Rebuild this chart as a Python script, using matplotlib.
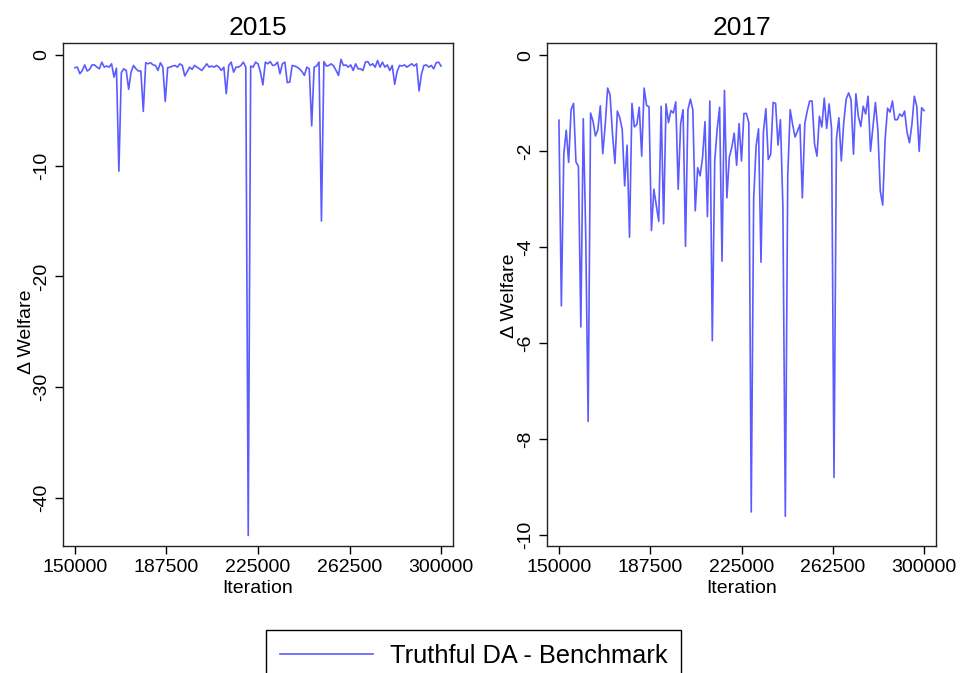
import matplotlib
matplotlib.use("Agg")
import matplotlib.pyplot as plt
import numpy as np

plt.rcParams['font.family'] = ['Liberation Sans', 'DejaVu Sans']

iterations = np.arange(150000, 301000, 1000)

# welfare gap, truthful DA minus benchmark, 2015
welfare_2015 = [
    -1.15, -1.1, -1.7, -1.4, -0.9, -1.45, -1.3, -0.9, -0.9, -1.1,
    -1.25, -0.65, -1.1, -1.0, -1.1, -0.8, -2.0, -1.2, -10.5, -1.6,
    -1.25, -1.4, -3.1, -1.55, -0.95, -1.25, -1.45, -1.45, -5.1, -0.7,
    -0.8, -0.7, -0.9, -0.95, -1.4, -0.7, -1.1, -4.2, -1.15, -1.1,
    -1.0, -0.95, -1.1, -0.8, -0.95, -1.9, -1.5, -1.1, -1.3, -0.95,
    -1.1, -1.25, -1.4, -1.1, -0.8, -1.1, -1.0, -1.1, -0.95, -1.1,
    -1.4, -1.1, -3.5, -0.95, -0.65, -1.55, -1.1, -1.1, -0.95, -0.65,
    -1.1, -43.4, -1.0, -1.1, -0.65, -0.8, -1.55, -2.7, -0.65, -0.8,
    -0.6, -0.95, -0.9, -0.65, -1.7, -0.8, -0.65, -2.5, -2.45, -0.95,
    -1.0, -1.1, -1.25, -1.5, -1.85, -1.1, -1.25, -6.4, -1.1, -1.0,
    -0.65, -15.0, -0.6, -1.0, -0.95, -0.8, -1.0, -1.4, -1.85, -0.4,
    -0.95, -0.9, -1.1, -0.9, -1.4, -0.8, -1.25, -1.25, -1.4, -0.65,
    -0.6, -0.95, -0.8, -1.1, -0.5, -1.1, -0.65, -1.1, -0.9, -1.4,
    -0.95, -2.65, -1.5, -0.95, -1.0, -0.9, -1.1, -0.95, -0.8, -1.0,
    -0.8, -3.25, -1.7, -0.95, -0.9, -1.1, -0.95, -1.25, -0.7, -0.65,
    -1.0,
]

# welfare gap, truthful DA minus benchmark, 2017
welfare_2017 = [
    -1.35, -5.22, -2.06, -1.56, -2.23, -1.13, -1.0, -2.22, -2.31, -5.66,
    -1.32, -3.7, -7.63, -1.2, -1.37, -1.68, -1.55, -1.05, -2.05, -1.46,
    -0.68, -0.82, -1.63, -2.25, -1.16, -1.3, -1.54, -2.72, -1.87, -3.79,
    -1.0, -1.49, -1.44, -1.08, -2.1, -0.68, -1.04, -1.07, -3.65, -2.79,
    -3.13, -3.46, -1.06, -3.51, -1.01, -1.4, -1.15, -1.2, -0.97, -2.79,
    -1.42, -1.13, -3.98, -1.13, -0.91, -1.13, -3.24, -2.34, -2.51, -2.13,
    -1.38, -3.36, -0.95, -5.95, -2.2, -1.54, -1.08, -4.29, -0.73, -2.97,
    -2.12, -1.92, -1.62, -2.29, -1.42, -2.2, -1.21, -1.21, -1.4, -9.52,
    -2.99, -1.89, -1.53, -4.31, -1.6, -1.11, -2.17, -2.06, -0.98, -1.0,
    -1.87, -1.34, -3.15, -9.61, -2.5, -1.13, -1.44, -1.7, -1.58, -1.44,
    -2.97, -1.42, -1.16, -0.95, -0.95, -1.84, -2.1, -1.27, -1.49, -0.89,
    -1.52, -1.01, -1.52, -8.8, -1.74, -1.3, -2.2, -1.4, -0.91, -0.78,
    -0.92, -2.06, -0.8, -1.27, -1.48, -1.06, -1.22, -0.85, -2.0, -1.5,
    -0.98, -1.54, -2.82, -3.12, -1.75, -1.1, -1.18, -0.95, -1.34, -1.34,
    -1.22, -1.27, -1.16, -1.6, -1.82, -1.44, -0.85, -1.06, -2.0, -1.09,
    -1.15,
]

xticks = [150000, 187500, 225000, 262500, 300000]
line_color = '#5b5bff'

fig = plt.figure(figsize=(9.61, 6.73), dpi=100)
W, H = 961, 673
ax1 = fig.add_axes([63 / W, 1 - 546 / H, 390 / W, 503 / H])
ax2 = fig.add_axes([547 / W, 1 - 546 / H, 389 / W, 503 / H])

# axis, data, title, y ticks, y limits, y-label position (axes fraction)
panels = [
    (ax1, welfare_2015, '2015', [0, -10, -20, -30, -40], (-44.35, 1.08), (-0.072, 0.425)),
    (ax2, welfare_2017, '2017', [0, -2, -4, -6, -8, -10], (-10.23, 0.26), (-0.074, 0.497)),
]

for ax, vals, title, yticks, ylim, lab_xy in panels:
    line, = ax.plot(iterations, vals, color=line_color, lw=1.2,
                    label='Truthful DA - Benchmark')
    ax.set_xlim(145100, 304900)
    ax.set_ylim(*ylim)
    ax.set_xticks(xticks)
    ax.set_xticklabels([str(t) for t in xticks])
    ax.set_yticks(yticks)
    ax.set_yticklabels([str(t) for t in yticks], rotation=90, va='center')
    ax.tick_params(axis='both', labelsize=14, length=6, width=1, colors='black')
    ax.set_title(title, fontsize=19, pad=6)
    ax.set_xlabel('Iteration', fontsize=14, labelpad=3)
    ax.set_ylabel('\u0394 Welfare', fontsize=14)
    ax.yaxis.set_label_coords(*lab_xy)
    for s in ax.spines.values():
        s.set_linewidth(1.0)
        s.set_color('#222222')

leg = fig.legend(handles=[line], loc='upper center',
                 bbox_to_anchor=(473.5 / W, 1 - 630 / H),
                 fontsize=18.3, handlelength=3.66, handletextpad=0.67,
                 borderpad=0.55, fancybox=False, framealpha=1,
                 edgecolor='black', borderaxespad=0)
leg.get_frame().set_linewidth(1.0)

fig.savefig('out.png', dpi=100)
